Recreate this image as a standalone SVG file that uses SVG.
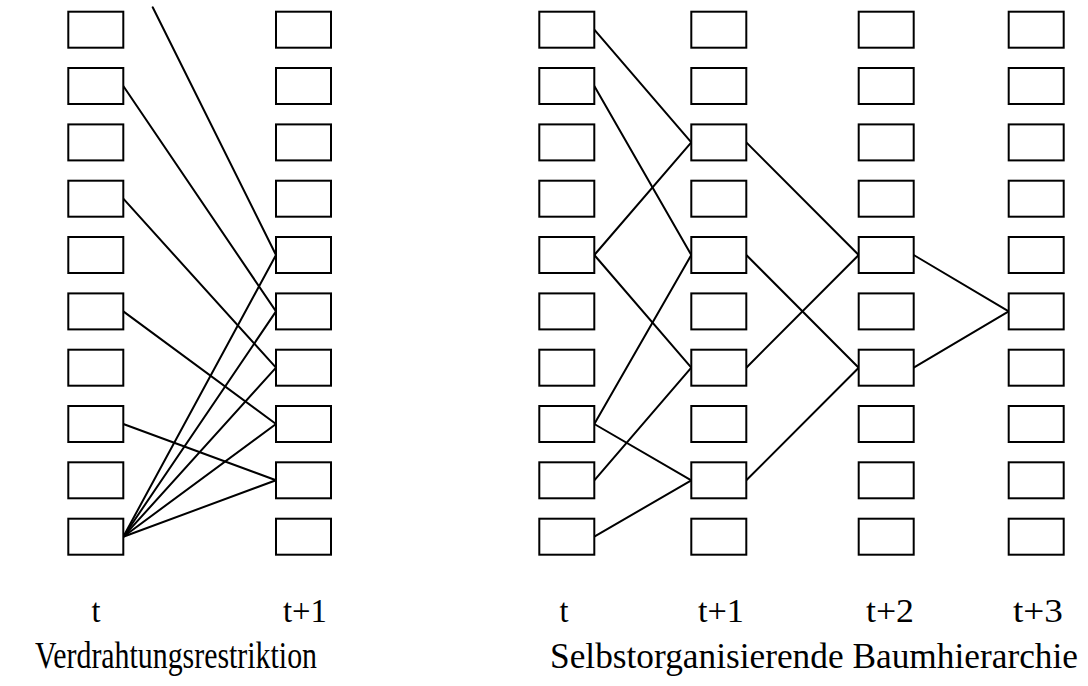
<svg xmlns="http://www.w3.org/2000/svg" width="1088" height="686" viewBox="0 0 1088 686">
<style>
.b{fill:#fff;stroke:#000;stroke-width:2}
.c line{stroke:#000;stroke-width:2;stroke-linecap:round}
.l{font-size:34px;fill:#000;text-anchor:middle}
.t{font-size:38px;fill:#000}
.t2{font-size:35px;fill:#000}
</style>
<defs>
<g id="col">
<rect class="b" x="0" y="11.7" width="55" height="36"/>
<rect class="b" x="0" y="68" width="55" height="36"/>
<rect class="b" x="0" y="124.4" width="55" height="36"/>
<rect class="b" x="0" y="180.7" width="55" height="36"/>
<rect class="b" x="0" y="237" width="55" height="36"/>
<rect class="b" x="0" y="293.4" width="55" height="36"/>
<rect class="b" x="0" y="349.7" width="55" height="36"/>
<rect class="b" x="0" y="406" width="55" height="36"/>
<rect class="b" x="0" y="462.3" width="55" height="36"/>
<rect class="b" x="0" y="518.7" width="55" height="36"/>
</g>
</defs>
<g id="connectors" class="c">
<line x1="152.7" y1="7.3" x2="276" y2="255"/>
<line x1="123.3" y1="86" x2="276" y2="311.4"/>
<line x1="123.3" y1="198.7" x2="276" y2="367.7"/>
<line x1="123.3" y1="311.4" x2="276" y2="424"/>
<line x1="123.3" y1="424" x2="276" y2="480.3"/>
<line x1="123.3" y1="536.7" x2="276" y2="255"/>
<line x1="123.3" y1="536.7" x2="276" y2="311.4"/>
<line x1="123.3" y1="536.7" x2="276" y2="367.7"/>
<line x1="123.3" y1="536.7" x2="276" y2="424"/>
<line x1="123.3" y1="536.7" x2="276" y2="480.3"/>

<line x1="594.3" y1="29.7" x2="691.3" y2="142.4"/>
<line x1="594.3" y1="86" x2="691.3" y2="255"/>
<line x1="594.3" y1="255" x2="691.3" y2="142.4"/>
<line x1="594.3" y1="255" x2="691.3" y2="367.7"/>
<line x1="594.3" y1="424" x2="691.3" y2="255"/>
<line x1="594.3" y1="424" x2="691.3" y2="480.3"/>
<line x1="594.3" y1="480.3" x2="691.3" y2="367.7"/>
<line x1="594.3" y1="536.7" x2="691.3" y2="480.3"/>

<line x1="746.3" y1="142.4" x2="858.7" y2="255"/>
<line x1="746.3" y1="255" x2="858.7" y2="367.7"/>
<line x1="746.3" y1="367.7" x2="858.7" y2="255"/>
<line x1="746.3" y1="480.3" x2="858.7" y2="367.7"/>

<line x1="913.7" y1="255" x2="1008.7" y2="311.4"/>
<line x1="913.7" y1="367.7" x2="1008.7" y2="311.4"/>
</g>
<g id="col-left-t"><use href="#col" x="68.3"/></g>
<g id="col-left-t1"><use href="#col" x="276"/></g>
<g id="col-right-t"><use href="#col" x="539.3"/></g>
<g id="col-right-t1"><use href="#col" x="691.3"/></g>
<g id="col-right-t2"><use href="#col" x="858.7"/></g>
<g id="col-right-t3"><use href="#col" x="1008.7"/></g>
<g id="labels" font-family="Liberation Serif, Times New Roman, serif">
<text class="l" x="96" y="622" textLength="9" lengthAdjust="spacingAndGlyphs">t</text>
<text class="l" x="305" y="622" textLength="44" lengthAdjust="spacingAndGlyphs">t+1</text>
<text class="l" x="564" y="622" textLength="9" lengthAdjust="spacingAndGlyphs">t</text>
<text class="l" x="721" y="622" textLength="46" lengthAdjust="spacingAndGlyphs">t+1</text>
<text class="l" x="890" y="622" textLength="48" lengthAdjust="spacingAndGlyphs">t+2</text>
<text class="l" x="1038" y="622" textLength="50" lengthAdjust="spacingAndGlyphs">t+3</text>
<text class="t" x="35" y="668" textLength="282" lengthAdjust="spacingAndGlyphs">Verdrahtungsrestriktion</text>
<text class="t2" x="550" y="668" textLength="528" lengthAdjust="spacingAndGlyphs">Selbstorganisierende Baumhierarchie</text>
</g>
</svg>
